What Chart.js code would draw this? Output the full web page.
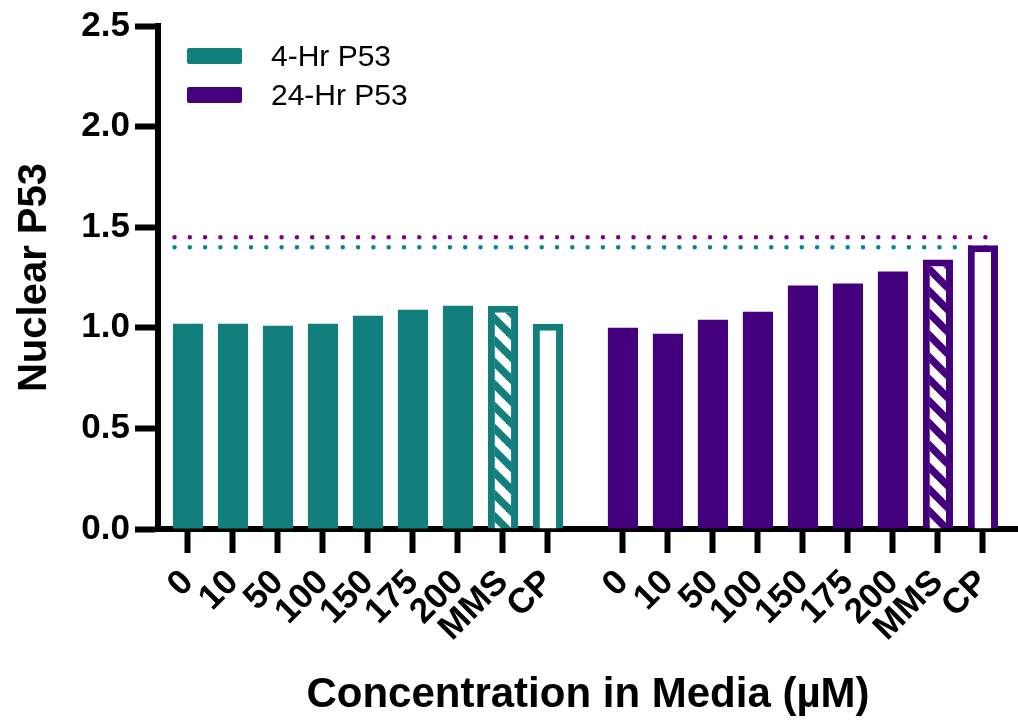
<!DOCTYPE html>
<html>
<head>
<meta charset="utf-8">
<script src="https://cdn.jsdelivr.net/npm/chart.js@4.4.1/dist/chart.umd.min.js"></script>
<style>
  html, body { margin: 0; padding: 0; background: #fff; }
  canvas { display: block; }
</style>
</head>
<body>
<canvas id="chart" width="1018" height="721"></canvas>
<script>
// Treatment groups shown on the x axis (repeated for each time point)
const categories = ['0', '10', '50', '100', '150', '175', '200', 'MMS', 'CP'];
// Nuclear P53 per treatment
const p53At4h  = [1.02, 1.02, 1.01, 1.02, 1.06, 1.09, 1.11, 1.11, 1.02];
const p53At24h = [1.00, 0.97, 1.04, 1.08, 1.21, 1.22, 1.28, 1.34, 1.41];
const seriesNames = ['4-Hr P53', '24-Hr P53'];
// Dotted reference levels for each time point
const threshold4h  = 1.40;
const threshold24h = 1.45;
// y axis tick values
const yTicks = [0, 0.5, 1.0, 1.5, 2.0, 2.5];

// ---- layout helpers -------------------------------------------------------
const FONT = '"Liberation Sans", Arial, Helvetica, sans-serif';
const TEAL = '#127f7d';
const PURPLE = '#44007c';
const TEAL_DOT = '#00879a';
const PURPLE_DOT = '#80007f';

const GROUP_GAP = 2 / 3;               // extra room between the two groups (in category widths)
const groupStart = g => g * (categories.length + GROUP_GAP);
const positions4h  = categories.map((_, i) => groupStart(0) + i);
const positions24h = categories.map((_, i) => groupStart(1) + i);
const allPositions = positions4h.concat(positions24h);
const tickLabels = categories.concat(categories);
const lastPos = positions24h[positions24h.length - 1];
const xMin = -GROUP_GAP;
const xMax = lastPos + 0.78;
const lineStart = -0.3;
const lineEnd = lastPos + 0.34;

// MMS bars are hatched, CP bars are hollow, the rest are solid
const bodyStyle = cat => cat === 'MMS' ? 'hatched' : (cat === 'CP' ? 'hollow' : 'solid');

function hatch(color) {
  const s = 22;
  const c = document.createElement('canvas');
  c.width = s; c.height = s;
  const g = c.getContext('2d');
  g.fillStyle = '#fff';
  g.fillRect(0, 0, s, s);
  g.strokeStyle = color;
  g.lineWidth = 7.5;
  for (let k = -1; k <= 1; k++) {
    g.beginPath();
    g.moveTo(k * s - s / 2, -s / 2);
    g.lineTo(k * s + s * 1.5, s * 1.5);
    g.stroke();
  }
  return g.createPattern(c, 'repeat');
}

function barDataset(label, values, positions, color) {
  const pattern = hatch(color);
  const styleAt = ctx => bodyStyle(categories[ctx.dataIndex ?? 0]);
  return {
    type: 'bar',
    label,
    data: values.map((v, i) => ({ x: positions[i], y: v })),
    backgroundColor: ctx => {
      const s = styleAt(ctx);
      return s === 'solid' ? color : (s === 'hatched' ? pattern : '#fff');
    },
    borderColor: color,
    borderWidth: ctx => styleAt(ctx) === 'solid' ? 0 : 7,
    borderSkipped: 'start',
    grouped: false,
    categoryPercentage: 1,
    barPercentage: 0.67,
    order: 1
  };
}

function thresholdLine(value, color) {
  return {
    type: 'line',
    label: '',
    data: [{ x: lineStart, y: value }, { x: lineEnd, y: value }],
    borderColor: color,
    borderWidth: 4.5,
    borderDash: [0, 15.3],
    borderCapStyle: 'round',
    pointRadius: 0,
    fill: false,
    order: 2
  };
}

// legend drawn inside the plot, top-left
const insetLegend = {
  id: 'insetLegend',
  afterDraw(chart) {
    const { ctx, chartArea } = chart;
    const bars = chart.data.datasets.filter(d => d.type === 'bar');
    ctx.save();
    bars.forEach((d, i) => {
      const cy = chartArea.top + 30 + i * 39;
      const x0 = chartArea.left + 29;
      ctx.fillStyle = d.borderColor;
      ctx.beginPath();
      ctx.roundRect(x0, cy - 8, 55, 16, 2);
      ctx.fill();
      ctx.fillStyle = '#000';
      ctx.font = '30px ' + FONT;
      ctx.textBaseline = 'middle';
      ctx.textAlign = 'left';
      ctx.fillText(d.label, x0 + 84, cy + 2);
    });
    ctx.restore();
  }
};

Chart.defaults.font.family = FONT;
Chart.defaults.color = '#000';

new Chart(document.getElementById('chart'), {
  type: 'bar',
  data: {
    datasets: [
      barDataset(seriesNames[0], p53At4h, positions4h, TEAL),
      barDataset(seriesNames[1], p53At24h, positions24h, PURPLE),
      thresholdLine(threshold24h, PURPLE_DOT),
      thresholdLine(threshold4h, TEAL_DOT)
    ]
  },
  options: {
    responsive: false,
    animation: false,
    layout: { padding: { top: 22, right: 0, bottom: 0, left: 0 } },
    plugins: {
      legend: { display: false },
      tooltip: { enabled: false }
    },
    scales: {
      x: {
        type: 'linear',
        min: xMin,
        max: xMax,
        offset: false,
        afterBuildTicks: s => { s.ticks = allPositions.map(v => ({ value: v })); },
        afterFit: s => { s.height = 192; s.paddingRight = 0; s.paddingLeft = 0; },
        ticks: {
          autoSkip: false,
          minRotation: 45,
          maxRotation: 45,
          padding: 9,
          color: '#000',
          font: { family: FONT, size: 35, weight: 'bold' },
          callback: (v, i) => tickLabels[i]
        },
        grid: {
          display: true,
          drawOnChartArea: false,
          drawTicks: true,
          offset: false,
          tickLength: 24,
          tickWidth: 6,
          tickColor: '#000'
        },
        border: { display: true, color: '#000', width: 6 },
        title: {
          display: true,
          text: 'Concentration in Media (µM)',
          color: '#000',
          font: { family: FONT, size: 42, weight: 'bold' },
          padding: { top: 0, bottom: 0 }
        }
      },
      y: {
        min: 0,
        max: 2.5,
        afterBuildTicks: s => { s.ticks = yTicks.map(v => ({ value: v })); },
        afterFit: s => { s.width = 158; },
        ticks: {
          padding: 5,
          color: '#000',
          font: { family: FONT, size: 35, weight: 'bold' },
          callback: v => v.toFixed(1)
        },
        grid: {
          display: true,
          drawOnChartArea: false,
          drawTicks: true,
          tickLength: 23,
          tickWidth: 6,
          tickColor: '#000'
        },
        border: { display: true, color: '#000', width: 6 },
        title: {
          display: true,
          text: 'Nuclear P53',
          color: '#000',
          font: { family: FONT, size: 40, weight: 'bold' },
          padding: { top: 11, bottom: 0 }
        }
      }
    }
  },
  plugins: [insetLegend]
});
</script>
</body>
</html>
